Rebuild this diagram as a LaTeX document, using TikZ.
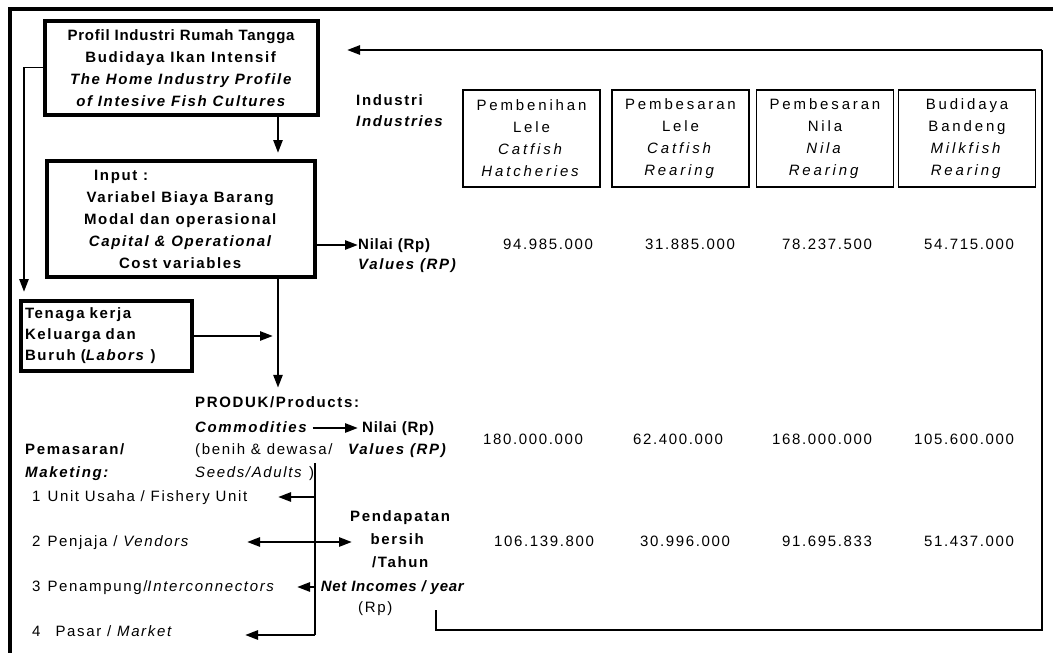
\documentclass[tikz,border=0pt]{standalone}
\usepackage{fontspec}
\setmainfont{Liberation Sans}[LetterSpace=11]
\newfontfamily\tightfont{Liberation Sans}[LetterSpace=5]
\newfontfamily\widefont{Liberation Sans}[LetterSpace=19]
\usetikzlibrary{arrows.meta,calc}
\begin{document}
\begin{tikzpicture}[x=1pt,y=-1pt,
  every node/.style={font=\fontsize{15}{22}\selectfont},
  tight/.style={font=\tightfont\fontsize{15}{22}\selectfont},
  wide/.style={font=\widefont\fontsize{15}{22}\selectfont},
  lbl/.style={inner sep=0pt, anchor=west, text height=11pt, text depth=3pt},
  lblc/.style={lbl, anchor=center},
  bigbox/.style={draw, line width=4pt, align=center, inner sep=0pt},
  tbox/.style={draw, line width=1.8pt, minimum width=137pt, minimum height=97pt, align=center, inner sep=0pt, wide},
  arr/.style={line width=2.6pt, -{Triangle[length=13pt,width=9pt]}},
  arrtwo/.style={line width=2.6pt, {Triangle[length=13pt,width=9pt]}-{Triangle[length=13pt,width=9pt]}},
  thinl/.style={line width=1.4pt},
  hair/.style={line width=1pt}
]
\useasboundingbox (0,0) rectangle (1053,653);
% outer frame
\draw[line width=4pt] (10,655) -- (10,9) -- (1055,9);

% top box
\node[bigbox, minimum width=273pt, minimum height=94pt] (profil) at (181.5,68)
  {{\tightfont\textbf{Profil Industri Rumah Tangga}}\\ \textbf{Budidaya Ikan Intensif}\\
   \textbf{\textit{The Home Industry Profile}}\\ \textbf{\textit{of Intesive Fish Cultures}}};

% input box
\node[bigbox, minimum width=268pt, minimum height=116pt] (input) at (181,219)
  {\textbf{Input :}\hspace*{118pt}\\ \textbf{Variabel Biaya Barang}\\ \textbf{Modal dan operasional}\\
   \textbf{\textit{Capital \& Operational}}\\ \textbf{Cost variables}};

% labour box
\node[draw, line width=4pt, minimum width=171pt, minimum height=70pt, text width=163pt,
      align=left, inner xsep=4pt, inner ysep=0pt] (tenaga) at (106.5,336)
  {\textbf{Tenaga kerja}\\[-1pt] \textbf{Keluarga dan}\\[-1pt] \textbf{Buruh (\textit{Labors} )}};

% values (first)
\node[lbl, tight] (nilaiA) at (358,245) {\textbf{Nilai (Rp)}};
\node[lbl] (valuesA) at (358,265) {\textbf{\textit{Values (RP)}}};

% industries
\node[lbl] (industri) at (356,101) {\textbf{Industri}};
\node[lbl] (industries) at (356,122) {\textbf{\textit{Industries}}};
\node[tbox] (ind1) at (531.5,138.5) {Pembenihan\\Lele\\\textit{Catfish}\\\textit{Hatcheries}};
\node[tbox] (ind2) at (680.5,138.5) {Pembesaran\\Lele\\\textit{Catfish}\\\textit{Rearing}};
\node[tbox] (ind3) at (825,138.5) {Pembesaran\\Nila\\\textit{Nila}\\\textit{Rearing}};
\node[tbox] (ind4) at (967,138.5) {Budidaya\\Bandeng\\\textit{Milkfish}\\\textit{Rearing}};

% rows of values
\node[lblc] (r1a) at (548,245) {94.985.000};
\node[lblc] (r1b) at (690,245) {31.885.000};
\node[lblc] (r1c) at (827,245) {78.237.500};
\node[lblc] (r1d) at (969,245) {54.715.000};
\node[lblc] (r2a) at (533,440) {180.000.000};
\node[lblc] (r2b) at (678,440) {62.400.000};
\node[lblc] (r2c) at (822,440) {168.000.000};
\node[lblc] (r2d) at (964,440) {105.600.000};
\node[lblc] (r3a) at (544,542) {106.139.800};
\node[lblc] (r3b) at (685,542) {30.996.000};
\node[lblc] (r3c) at (827,542) {91.695.833};
\node[lblc] (r3d) at (969,542) {51.437.000};

% products block
\node[lbl] (produk) at (195,403) {\textbf{PRODUK/Products:}};
\node[lbl] (comm) at (195,428) {\textbf{\textit{Commodities}}};
\node[lbl, tight] (nilaiB) at (362,428) {\textbf{Nilai (Rp)}};
\node[lbl] (benih) at (195,450) {(benih \& dewasa/};
\node[lbl] (valuesB) at (348,450) {\textbf{\textit{Values (RP)}}};
\node[lbl] (seeds) at (195,473) {\textit{Seeds/Adults} )};

% marketing
\node[lbl] (pemasaran) at (25,450) {\textbf{Pemasaran/}};
\node[lbl] (maketing) at (25,473) {\textbf{\textit{Maketing:}}};
\node[lbl] (m1) at (32,497) {1\hspace{7pt}Unit Usaha / Fishery Unit};
\node[lbl] (m2) at (32,542) {2\hspace{7pt}Penjaja / \textit{Vendors}};
\node[lbl] (m3) at (32,587) {3\hspace{7pt}Penampung/\textit{Interconnectors}};
\node[lbl] (m4) at (32,632) {4\hspace{15pt}Pasar / \textit{Market}};

% net income
\node[lblc] (pendA) at (401,517) {\textbf{Pendapatan}};
\node[lblc] (pendB) at (398,540) {\textbf{bersih}};
\node[lblc] (pendC) at (401,563) {\textbf{/Tahun}};
\node[lblc, tight] (pendD) at (393,587) {\textbf{\textit{Net Incomes / year}}};
\node[lbl] (pendE) at (358,608) {(Rp)};

% connectors
\coordinate (d1) at (278,277);
\draw[arr, shorten >=6pt] (profil.south -| d1) -- (input.north -| d1);
\draw[arr, shorten >=8pt] (d1) -- (d1 |- produk.north);
\draw[arr, shorten >=5pt] (tenaga.east) -- (tenaga.east -| d1);
\draw[arr] (input.east |- nilaiA.west) -- (nilaiA.west);
\draw[arr, shorten <=4pt, shorten >=4pt] (comm.east) -- (nilaiB.west);

% left connector
\coordinate (lc) at (24,67);
\draw[hair] (profil.west |- lc) -- (lc);
\draw[arr, shorten >=7pt] (lc) -- (lc |- tenaga.north);

% marketing distribution line
\coordinate (mt) at (315,463);
\coordinate (mb) at (315,635);
\draw[thinl] (mt) -- (mb);
\draw[arr] (mt |- m1.east) -- ++(-37,0);
\draw[arrtwo] ($(mt |- m2.east)+(-68,0)$) -- ++(105,0);
\draw[arr] (mt |- m3.east) -- ++(-18,0);
\draw[arr] (mb) -- ++(-70,0);

% feedback loop
\coordinate (fb0) at (436,610);
\coordinate (fb1) at (1042,630);
\coordinate (fb2) at (1042,50);
\draw[thinl] (fb0) |- (fb1) -- (fb2);
\draw[arr, shorten >=27pt] (fb2) -- (profil.east |- fb2);
\end{tikzpicture}
\end{document}
